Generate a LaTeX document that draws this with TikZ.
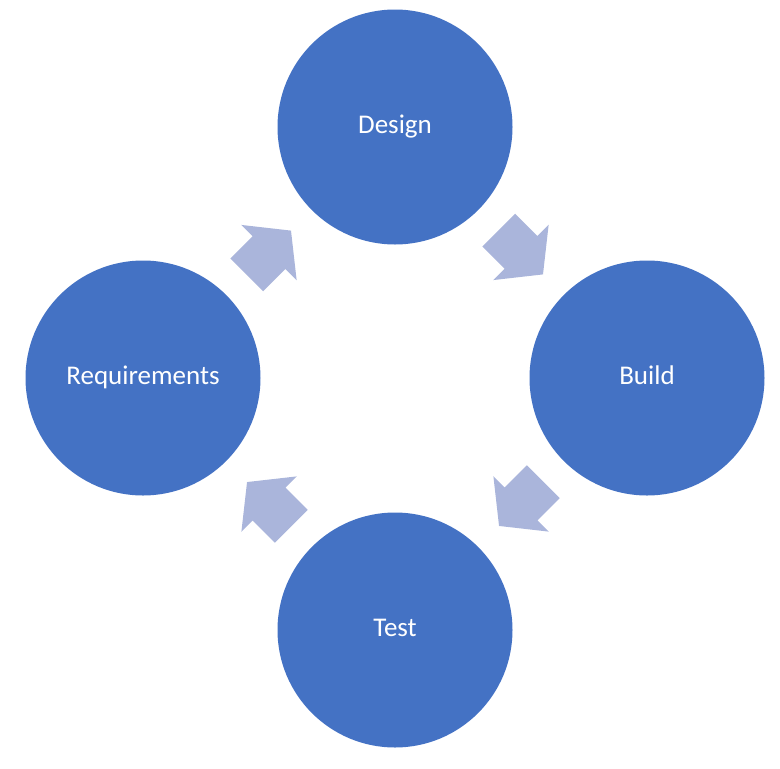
\documentclass[tikz,border=0pt]{standalone}
\usepackage{fontspec}
\setmainfont{Carlito}
\usetikzlibrary{shapes.arrows,calc}
\definecolor{circblue}{RGB}{68,114,196}
\definecolor{arrblue}{RGB}{170,181,219}
\begin{document}
\begin{tikzpicture}[x=1pt,y=-1pt,
  stage/.style={circle,fill=circblue,draw=none,minimum size=235pt,inner sep=0pt,
    text=white,font=\fontsize{27}{30}\selectfont,text height=13.2pt,text depth=0pt},
  flowarrow/.style={single arrow,fill=arrblue,draw=none,minimum height=62.6pt,
    minimum width=78pt,single arrow head extend=16pt,single arrow tip angle=103,
    inner xsep=0pt,inner ysep=23pt,text height=0pt,text depth=0pt,anchor=tip}]
\useasboundingbox (0,0) rectangle (780,769);
\node[stage] (design) at (395,127) {Design};
\node[stage] (build) at (647,378) {Build};
\node[stage] (test) at (395,630) {Test};
\node[stage] (req) at (143,378) {Requirements};
\node[flowarrow,rotate=-45] (a1) at ($(design)!0.5!(build)!31.3pt!(build)$) {};
\node[flowarrow,rotate=-135] (a2) at ($(build)!0.5!(test)!31.3pt!(test)$) {};
\node[flowarrow,rotate=135] (a3) at ($(test)!0.5!(req)!31.3pt!(req)$) {};
\node[flowarrow,rotate=45] (a4) at ($(req)!0.5!(design)!31.3pt!(design)$) {};
\end{tikzpicture}
\end{document}
